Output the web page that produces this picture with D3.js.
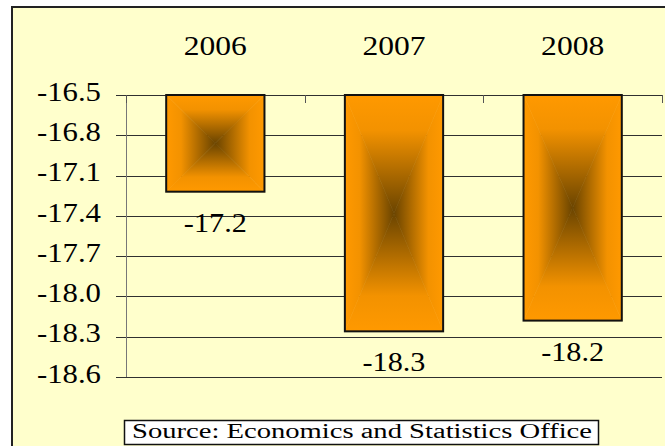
<!DOCTYPE html>
<html>
<head>
<meta charset="utf-8">
<script src="https://cdn.jsdelivr.net/npm/d3@7"></script>
<style>
    body { margin: 0; background: #ffffff; }
    text { font-family: "Liberation Serif", serif; fill: #000000; }
</style>
</head>
<body>
<svg id="chart" width="665" height="446"></svg>
<script>
var years = ['2006', '2007', '2008'];
var values = [-17.22, -18.26, -18.18];
var valueLabels = ['-17.2', '-18.3', '-18.2'];
var yTicks = [-16.5, -16.8, -17.1, -17.4, -17.7, -18.0, -18.3, -18.6];
var sourceText = 'Source: Economics and Statistics Office';

var svg = d3.select('#chart'),
    width = +svg.attr('width'),
    height = +svg.attr('height');

var plotLeft = 126, plotRight = 662, plotTop = 95, plotBottom = 377;

// widen the glyphs a bit, the original font is broader than Times
function stretch(sel, k) {
    sel.each(function () {
        var w = this.getComputedTextLength();
        d3.select(this)
            .attr('textLength', w * k)
            .attr('lengthAdjust', 'spacingAndGlyphs');
    });
}

// outer frame
svg.append('rect')
    .attr('x', 12).attr('y', 7)
    .attr('width', width + 20).attr('height', height + 20)
    .style('fill', '#ffffcc')
    .style('stroke', '#222222')
    .style('stroke-width', 2);

var x = d3.scaleBand()
    .domain(years)
    .range([plotLeft, plotRight])
    .paddingInner(0.45)
    .paddingOuter(0.225);

var y = d3.scaleLinear()
    .domain([-16.5, -18.6])
    .range([plotTop, plotBottom]);

// gradients: four triangles per bar make the rectangular "from centre" fill
var defs = svg.append('defs');
var dirs = {
    top: [0, 0, 0, 1],
    bottom: [0, 1, 0, 0],
    left: [0, 0, 1, 0],
    right: [1, 0, 0, 0]
};
Object.keys(dirs).forEach(function (k) {
    var d = dirs[k];
    var grad = defs.append('linearGradient')
        .attr('id', 'g-' + k)
        .attr('x1', d[0]).attr('y1', d[1])
        .attr('x2', d[2]).attr('y2', d[3]);
    grad.append('stop').attr('offset', 0).attr('stop-color', '#ff9900');
    grad.append('stop').attr('offset', 0.3).attr('stop-color', '#f39200');
    grad.append('stop').attr('offset', 1).attr('stop-color', '#6a4400');
});

// grid lines
svg.append('g')
    .selectAll('line')
    .data(yTicks)
    .enter().append('line')
    .attr('x1', plotLeft - 10)
    .attr('x2', plotRight)
    .attr('y1', function (d) { return Math.round(y(d)) + 0.5; })
    .attr('y2', function (d) { return Math.round(y(d)) + 0.5; })
    .style('stroke', '#303030')
    .style('stroke-width', 1);

// y axis line
svg.append('line')
    .attr('x1', plotLeft + 0.5).attr('x2', plotLeft + 0.5)
    .attr('y1', plotTop).attr('y2', plotBottom)
    .style('stroke', '#777777');

// category ticks along top
var catTicks = d3.range(years.length + 1).map(function (i) {
    return plotLeft + i * x.step();
});
svg.append('g')
    .selectAll('line')
    .data(catTicks)
    .enter().append('line')
    .attr('x1', function (d) { return Math.round(d) + 0.5; })
    .attr('x2', function (d) { return Math.round(d) + 0.5; })
    .attr('y1', plotTop)
    .attr('y2', plotTop + 8)
    .style('stroke', '#555555');

// y tick labels
svg.append('g')
    .selectAll('text')
    .data(yTicks)
    .enter().append('text')
    .attr('x', 101)
    .attr('y', function (d) { return y(d) + 5.7; })
    .style('text-anchor', 'end')
    .style('font-size', '26.5px')
    .text(function (d) { return d.toFixed(1); })
    .call(stretch, 1.16);

// category labels on top
svg.append('g')
    .selectAll('text')
    .data(years)
    .enter().append('text')
    .attr('x', function (d) { return x(d) + x.bandwidth() / 2; })
    .attr('y', 55)
    .style('text-anchor', 'middle')
    .style('font-size', '26.5px')
    .text(function (d) { return d; })
    .call(stretch, 1.19);

// bars
var bars = svg.append('g')
    .selectAll('g')
    .data(values)
    .enter().append('g');

function tri(d, i, side) {
    var x0 = x(years[i]), x1 = x0 + x.bandwidth();
    var y0 = y(-16.5), y1 = y(d);
    var cx = (x0 + x1) / 2, cy = (y0 + y1) / 2;
    var p;
    if (side === 'top') p = [[x0, y0], [x1, y0], [cx, cy]];
    if (side === 'bottom') p = [[x0, y1], [x1, y1], [cx, cy]];
    if (side === 'left') p = [[x0, y0], [x0, y1], [cx, cy]];
    if (side === 'right') p = [[x1, y0], [x1, y1], [cx, cy]];
    return 'M' + p.join('L') + 'Z';
}

['top', 'bottom', 'left', 'right'].forEach(function (side) {
    bars.append('path')
        .attr('d', function (d, i) { return tri(d, i, side); })
        .style('fill', 'url(#g-' + side + ')')
        .style('stroke', 'url(#g-' + side + ')')
        .style('stroke-width', 0.6);
});

bars.append('rect')
    .attr('x', function (d, i) { return x(years[i]); })
    .attr('y', y(-16.5))
    .attr('width', x.bandwidth())
    .attr('height', function (d) { return y(d) - y(-16.5); })
    .style('fill', 'none')
    .style('stroke', '#111111')
    .style('stroke-width', 2);

// value labels
bars.append('text')
    .attr('x', function (d, i) { return x(years[i]) + x.bandwidth() / 2; })
    .attr('y', function (d) { return y(d) + 40; })
    .style('text-anchor', 'middle')
    .style('font-size', '26.5px')
    .text(function (d, i) { return valueLabels[i]; })
    .call(stretch, 1.14);

// source box
svg.append('rect')
    .attr('x', 124.5).attr('y', 420.5)
    .attr('width', 474).attr('height', 24)
    .style('fill', '#ffffff')
    .style('stroke', '#111111')
    .style('stroke-width', 1.5);

svg.append('text')
    .attr('x', 132)
    .attr('y', 438)
    .attr('textLength', 460)
    .attr('lengthAdjust', 'spacingAndGlyphs')
    .style('font-size', '20.5px')
    .text(sourceText);
</script>
</body>
</html>
